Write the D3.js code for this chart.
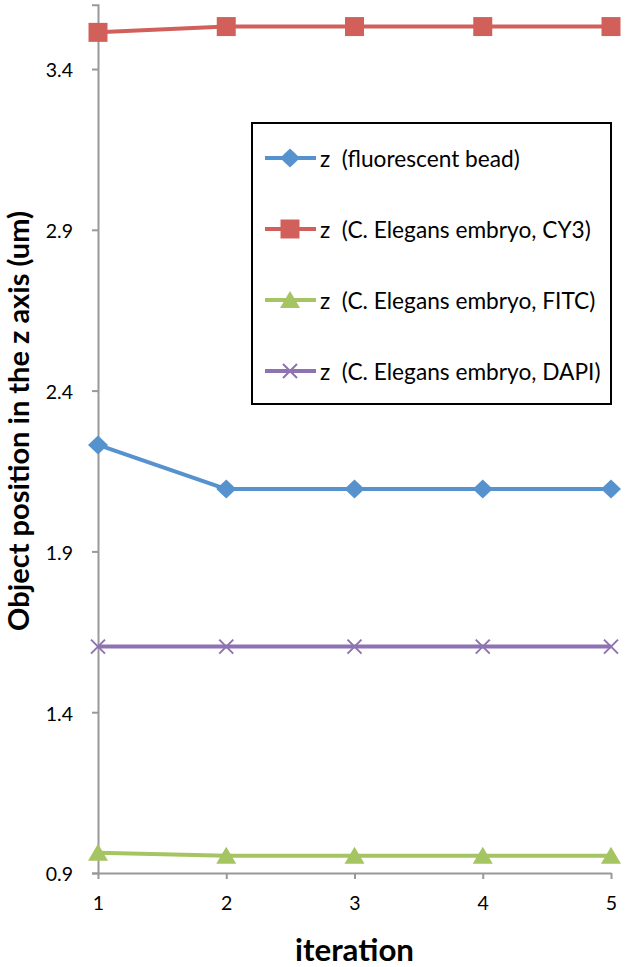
<!DOCTYPE html>
<html><head><meta charset="utf-8">
<script src="https://cdn.jsdelivr.net/npm/d3@7"></script>
<style>body{margin:0;background:#fff}svg{display:block}text{white-space:pre}</style>
</head><body>
<svg id="c" width="627" height="967"></svg>
<script>
const iterations = [1, 2, 3, 4, 5];
const beadZ = [2.231, 2.094, 2.094, 2.094, 2.094];
const cy3Z = [3.514, 3.532, 3.532, 3.532, 3.532];
const fitcZ = [0.963, 0.954, 0.954, 0.954, 0.954];
const dapiZ = [1.604, 1.604, 1.604, 1.604, 1.604];
const yTicks = [0.9, 1.4, 1.9, 2.4, 2.9, 3.4];
const seriesNames = ["z  (fluorescent bead)", "z  (C. Elegans embryo, CY3)", "z  (C. Elegans embryo, FITC)", "z  (C. Elegans embryo, DAPI)"];
const seriesColors = ["#5592CE", "#D2605A", "#A5C462", "#8E73B2"];
const seriesShapes = ["diamond", "square", "triangle", "x"];
const seriesValues = [beadZ, cy3Z, fitcZ, dapiZ];

const svg = d3.select("#c");
const font = "Lato, 'Open Sans', sans-serif";
const x = d3.scaleLinear().domain([1, 5]).range([98, 611]);
const y = d3.scaleLinear().domain([0.9, 3.6]).range([873, 4.7]);

function fit(sel, target) {
  const n = sel.node();
  const fs = parseFloat(sel.attr("font-size"));
  const len = n.getComputedTextLength();
  sel.attr("font-size", fs * target / len);
}

// axes
const gy = svg.append("g").attr("transform", "translate(98,0)")
  .call(d3.axisLeft(y).tickValues(yTicks).tickFormat(d3.format(".1f")).tickSize(6).tickPadding(19));
gy.select(".domain").attr("stroke", "#999").attr("stroke-width", 2);
gy.selectAll(".tick line").attr("stroke", "#999").attr("stroke-width", 2);
gy.selectAll(".tick text").attr("font-family", font).attr("font-size", 19.5).attr("fill", "#000").attr("dy", "0.4em");

const gx = svg.append("g").attr("transform", "translate(0,873)")
  .call(d3.axisBottom(x).tickValues(iterations).tickFormat(d3.format("d")).tickSize(6).tickSizeOuter(0).tickPadding(17));
gx.select(".domain").attr("stroke", "#999").attr("stroke-width", 2);
gx.selectAll(".tick line").attr("stroke", "#999").attr("stroke-width", 2);
gx.selectAll(".tick text").attr("font-family", font).attr("font-size", 19.5).attr("fill", "#000");

// axis titles
const yt = svg.append("text").attr("transform", "translate(29,421) rotate(-90)")
  .attr("text-anchor", "middle").attr("font-family", font).attr("font-weight", "bold")
  .attr("font-size", 30).text("Object position in the z axis (um)");
fit(yt, 420);
const xt = svg.append("text").attr("x", 354.5).attr("y", 961).attr("text-anchor", "middle")
  .attr("font-family", font).attr("font-weight", "bold").attr("font-size", 30).text("iteration");
fit(xt, 119);

function marker(g, shape, color, cx, cy) {
  const p = g.append("path").attr("transform", `translate(${cx},${cy})`);
  if (shape === "diamond") {
    p.attr("d", "M0,-9.5L10,0L0,9.5L-10,0Z").attr("fill", color);
  } else if (shape === "square") {
    p.attr("d", "M-9.5,-9.5H9.5V9.5H-9.5Z").attr("fill", color);
  } else if (shape === "triangle") {
    p.attr("d", "M0,-9L10,8H-10Z").attr("fill", color);
  } else {
    p.attr("d", "M-7,-7L7,7M-7,7L7,-7").attr("fill", "none").attr("stroke", color).attr("stroke-width", 2);
  }
}

const line = d3.line().x((d, i) => x(iterations[i])).y(d => y(d));
seriesValues.forEach((vals, si) => {
  const g = svg.append("g");
  g.append("path").datum(vals).attr("d", line).attr("fill", "none")
    .attr("stroke", seriesColors[si]).attr("stroke-width", 4).attr("stroke-linejoin", "round");
  vals.forEach((v, i) => marker(g, seriesShapes[si], seriesColors[si], x(iterations[i]), y(v)));
});

// legend
const lg = svg.append("g");
lg.append("rect").attr("x", 252).attr("y", 123).attr("width", 359).attr("height", 281)
  .attr("fill", "#fff").attr("stroke", "#000").attr("stroke-width", 2);
const rowY = [158, 229, 300, 371];
seriesNames.forEach((name, i) => {
  lg.append("line").attr("x1", 265).attr("x2", 316).attr("y1", rowY[i]).attr("y2", rowY[i])
    .attr("stroke", seriesColors[i]).attr("stroke-width", 4);
  marker(lg, seriesShapes[i], seriesColors[i], 290, rowY[i]);
  const t = lg.append("text").attr("x", 320).attr("y", rowY[i] + 9).attr("font-family", font)
    .attr("font-size", 20).attr("fill", "#000").text(name);
  if (i === 0) fit(t, 200);
});
const fsLeg = lg.select("text").attr("font-size");
lg.selectAll("text").attr("font-size", fsLeg);
</script>
</body></html>
